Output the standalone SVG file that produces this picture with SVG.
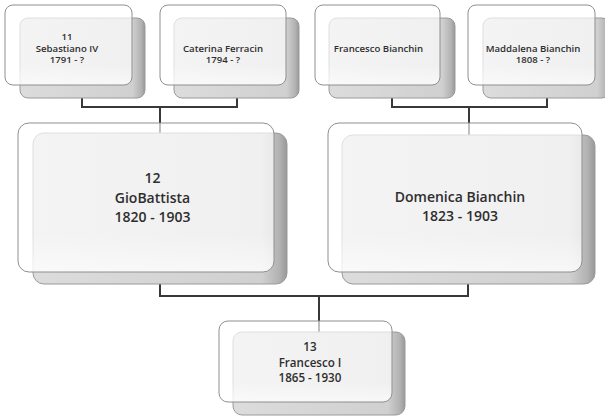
<svg xmlns="http://www.w3.org/2000/svg" width="605" height="417" viewBox="0 0 605 417">
  <defs>
    <linearGradient id="backShade" x1="0" y1="0" x2="1" y2="0">
      <stop offset="0" stop-color="#dcdcdc"/>
      <stop offset="0.9" stop-color="#d0d0d0"/>
      <stop offset="0.97" stop-color="#b2b2b2"/>
      <stop offset="1" stop-color="#989898"/>
    </linearGradient>
    <linearGradient id="frontGloss" x1="0" y1="0" x2="0" y2="1">
      <stop offset="0" stop-color="#ffffff" stop-opacity="0.68"/>
      <stop offset="0.75" stop-color="#ffffff" stop-opacity="0.68"/>
      <stop offset="1" stop-color="#ffffff" stop-opacity="0.85"/>
    </linearGradient>
  </defs>
  <style>
    .back { fill: url(#backShade); stroke: #9a9a9a; stroke-width: 1; }
    .front { fill: url(#frontGloss); stroke: #8f8f8f; stroke-width: 1; }
    .wire { fill: none; stroke: #383838; stroke-width: 2; }
    text { font-family: "Open Sans", "Liberation Sans", sans-serif; fill: #2e2e2e; text-anchor: middle; font-weight: 600; }
    .sm { font-size: 9.6px; }
    .md { font-size: 11.6px; }
    .lg { font-size: 14px; }
  </style>

  <rect width="605" height="417" fill="#ffffff"/>

  <!-- connectors (drawn first so the translucent cards veil them) -->
  <g id="connectors">
    <path class="wire" d="M82,98 V107 H237 V98 M160,107 V133"/>
    <path class="wire" d="M392,98 V107 H547 V98 M469,107 V135"/>
    <path class="wire" d="M160,284 V296 H468 V284 M319,296 V332"/>
  </g>

  <g id="node-sebastiano">
    <rect class="back" x="20" y="18" width="125" height="80" rx="8"/>
    <rect class="front" x="5" y="5" width="127" height="80" rx="8"/>
    <text class="sm" x="67" y="40">11<tspan x="67" dy="11.5">Sebastiano IV</tspan><tspan x="67" dy="11.5">1791 - ?</tspan></text>
  </g>

  <g id="node-caterina">
    <rect class="back" x="174" y="18" width="125" height="80" rx="8"/>
    <rect class="front" x="160" y="5" width="126" height="80" rx="8"/>
    <text class="sm" x="223" y="51.5">Caterina Ferracin<tspan x="223" dy="11.5">1794 - ?</tspan></text>
  </g>

  <g id="node-francesco-bianchin">
    <rect class="back" x="329" y="18" width="126" height="80" rx="8"/>
    <rect class="front" x="315" y="5" width="125" height="80" rx="8"/>
    <text class="sm" x="378.5" y="51.5">Francesco Bianchin</text>
  </g>

  <g id="node-maddalena">
    <rect class="back" x="483" y="18" width="127" height="80" rx="8"/>
    <rect class="front" x="468" y="5" width="127" height="80" rx="8"/>
    <text class="sm" x="533" y="51.5">Maddalena Bianchin<tspan x="533" dy="11.5">1808 - ?</tspan></text>
  </g>

  <g id="node-giobattista">
    <rect class="back" x="33" y="133" width="254" height="151" rx="11"/>
    <rect class="front" x="18" y="123" width="256" height="149" rx="11"/>
    <text class="lg" x="152.5" y="183">12<tspan x="152.5" dy="20">GioBattista</tspan><tspan x="152.5" dy="19">1820 - 1903</tspan></text>
  </g>

  <g id="node-domenica">
    <rect class="back" x="342" y="135" width="253" height="149" rx="11"/>
    <rect class="front" x="328" y="123" width="254" height="149" rx="11"/>
    <text class="lg" x="460" y="202">Domenica Bianchin<tspan x="460" dy="18.5">1823 - 1903</tspan></text>
  </g>

  <g id="node-francesco-i">
    <rect class="back" x="233" y="332" width="172" height="83" rx="9"/>
    <rect class="front" x="219" y="321" width="173" height="81" rx="9"/>
    <text class="md" x="310" y="351">13<tspan x="310" dy="15.5">Francesco I</tspan><tspan x="310" dy="15.5">1865 - 1930</tspan></text>
  </g>
</svg>
